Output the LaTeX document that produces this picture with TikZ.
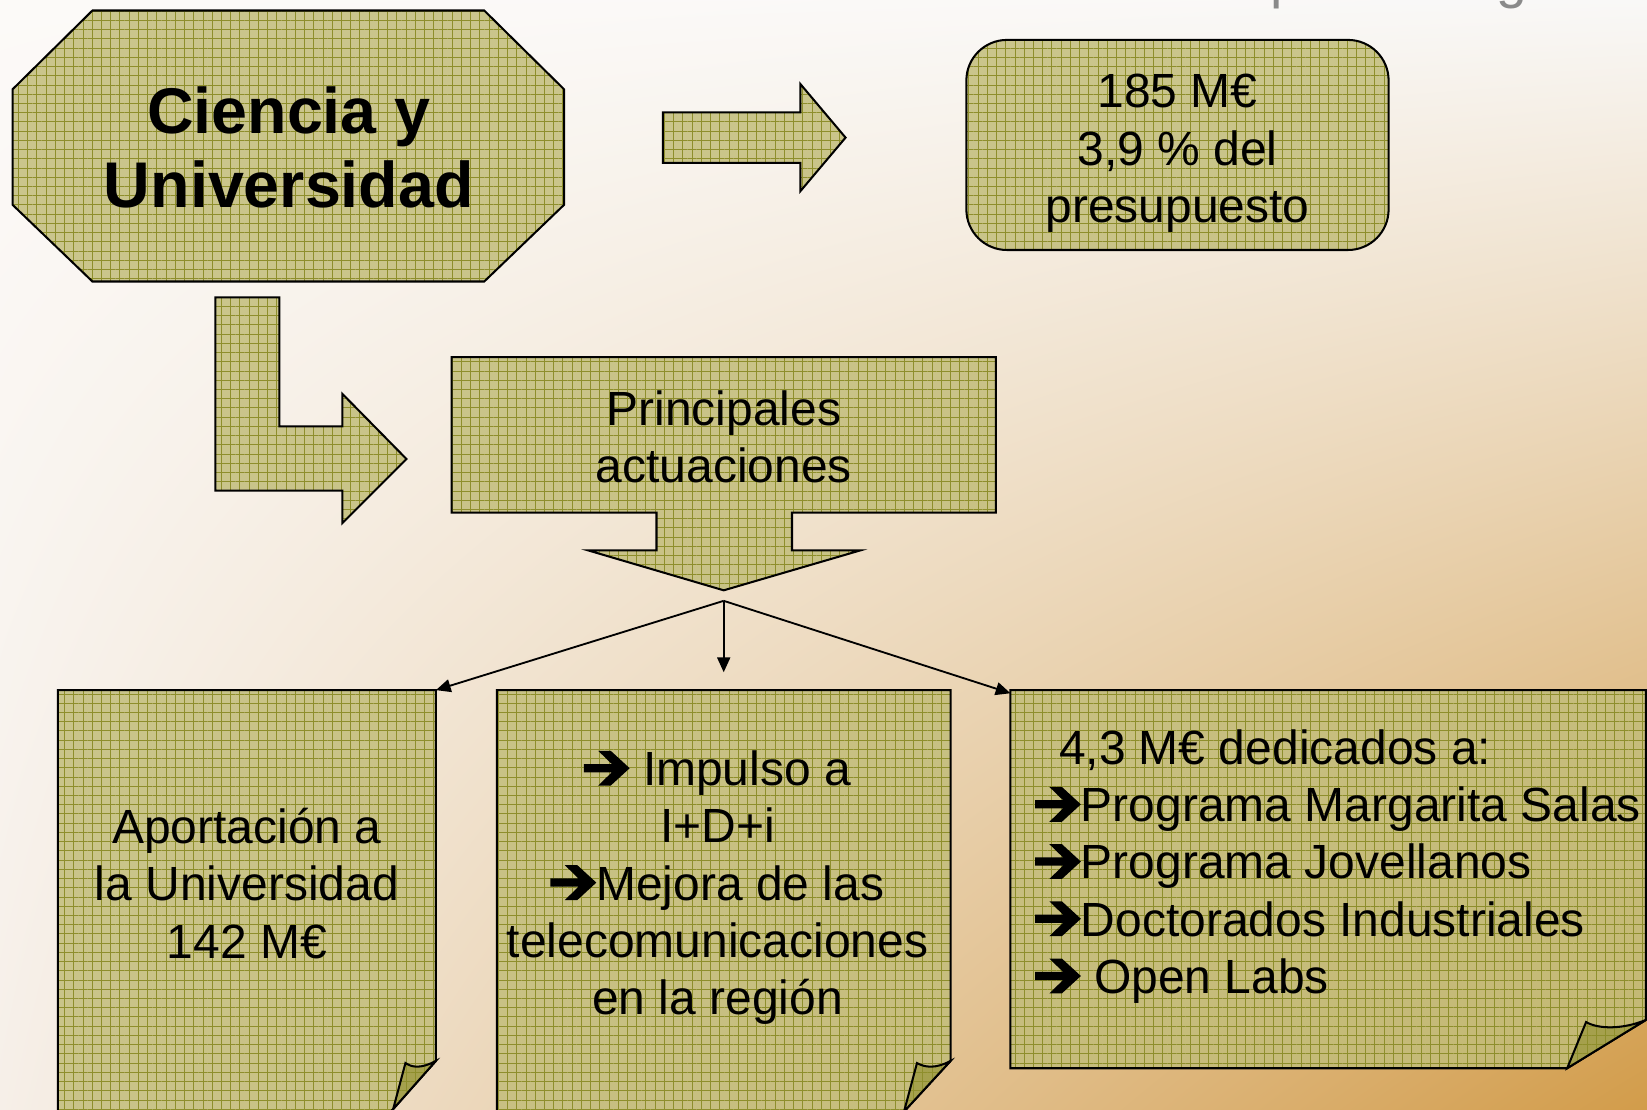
\documentclass[tikz,border=0pt]{standalone}
\usepackage{fontspec}
\setmainfont{Liberation Sans}
\usetikzlibrary{patterns.meta,arrows.meta,shadings}
\definecolor{khaki}{HTML}{C2BD7A}
\definecolor{olivegrid}{HTML}{8E8E2C}
\definecolor{flapc}{HTML}{A29E48}
\definecolor{bgUL}{HTML}{FCFAF8}
\definecolor{bgUR}{HTML}{F9F8F7}
\definecolor{bgLL}{HTML}{F6EFE8}
\definecolor{bgLR}{HTML}{D29C4A}
\definecolor{titlegrey}{HTML}{8A8A8A}
\newcommand{\harr}{\tikz[x=1.08em,y=1em,baseline=0pt]\fill[black] (0,0.277) -- (0.54,0.277) -- (0.277,0) -- (0.519,0) -- (0.885,0.363) -- (0.519,0.726) -- (0.277,0.726) -- (0.54,0.45) -- (0,0.45) -- cycle;}
\tikzset{
  gridded/.style={
    postaction={fill opacity=0.38, pattern={Lines[angle=0,distance=5pt,line width=0.5pt]}, pattern color=olivegrid},
    postaction={fill opacity=0.38, pattern={Lines[angle=90,distance=5pt,line width=0.5pt]}, pattern color=olivegrid},
    postaction={draw=black, line width=1.1pt}},
  olive/.style={fill=khaki, fill opacity=0.85, gridded},
  flap/.style={fill=flapc, fill opacity=0.9, gridded},
  txt/.style={font=\fontsize{26}{31}\selectfont, align=center, inner sep=0pt, text=black},
  bigtxt/.style={font=\fontsize{35}{40}\selectfont\bfseries, align=center, inner sep=0pt, text=black},
  greyt/.style={font=\fontsize{30}{34}\selectfont, text=titlegrey, inner sep=0pt, anchor=base west},
  conn/.style={line width=1pt, -{Triangle[length=8pt,width=7pt]}}
}
\begin{document}
\begin{tikzpicture}[x=0.02cm,y=-0.02cm]
\useasboundingbox (0,0) rectangle (1568,1056);
\shade[upper left=bgUL, upper right=bgUR, lower left=bgLL, lower right=bgLR] (0,0) rectangle (1568,1056);
\begin{scope}
\clip (0,0) rectangle (1568,1056);
% cut-off title letters at the top edge
\node[greyt] (tp) at (1209,-2) {p};
\node[greyt] (tg) at (1424,-2) {g};

% octagon
\path[olive] (88,10) -- (461,10) -- (537,85) -- (537,195) -- (461,268) -- (88,268) -- (12,195) -- (12,85) -- cycle;
\node[bigtxt] (cu) at (275,140) {Ciencia y\\Universidad};

% right arrow
\path[olive] (631,107) -- (762,107) -- (762,80) -- (805,131) -- (762,182) -- (762,155) -- (631,155) -- cycle;

% budget box
\path[olive, rounded corners=22pt] (920,38) rectangle (1322,238);
\node[txt] (m185) at (1121,146) {185 M€\\3,9 \% del\\presupuesto};

% bent arrow
\path[olive] (205,283) -- (266,283) -- (266,406) -- (326,406) -- (326,375) -- (387,437) -- (326,498) -- (326,467) -- (205,467) -- cycle;

% principales box with down arrow
\path[olive] (430,340) -- (948,340) -- (948,488) -- (754,488) -- (754,524) -- (819,524) -- (689,562) -- (560,524) -- (625,524) -- (625,488) -- (430,488) -- cycle;
\node[txt] (pa) at (689,416) {Principales\\actuaciones};

% left note
\path[olive] (55,657) -- (415,657) -- (415,1010) -- (360,1072) -- (55,1072) -- cycle;
\path[flap] (415,1010) .. controls (400,1018) and (392,1016) .. (386,1012) -- (370,1072) -- (360,1072) -- cycle;
\node[txt] (ap) at (235,841) {Aportación a\\la Universidad\\142 M€};

% middle note
\path[olive] (473,657) -- (905,657) -- (905,1010) -- (848,1072) -- (473,1072) -- cycle;
\path[flap] (905,1010) .. controls (890,1018) and (880,1016) .. (873,1012) -- (857,1072) -- (848,1072) -- cycle;
\node[txt] (imp) at (683,845) {\harr{} Impulso a\\I+D+i\\\harr Mejora de las\\telecomunicaciones\\en la región};

% right note
\path[olive] (962,657) -- (1567,657) -- (1567,971) -- (1492,1017) -- (962,1017) -- cycle;
\path[flap] (1567,971) .. controls (1545,980) and (1522,980) .. (1510,973) -- (1492,1017) -- cycle;
\node[txt, align=left, anchor=west] (ded) at (985,825) {\hspace*{13pt}4,3 M€ dedicados a:\\\harr Programa Margarita Salas\\\harr Programa Jovellanos\\\harr Doctorados Industriales\\\harr{} Open Labs};

% connectors
\coordinate (split) at (689,572);
\coordinate (lbne) at (415,657);
\coordinate (mbn) at (689,640);
\coordinate (rbnw) at (962,660);
\draw[conn] (split) -- (lbne);
\draw[conn] (split) -- (mbn);
\draw[conn] (split) -- (rbnw);
\end{scope}
\end{tikzpicture}
\end{document}
